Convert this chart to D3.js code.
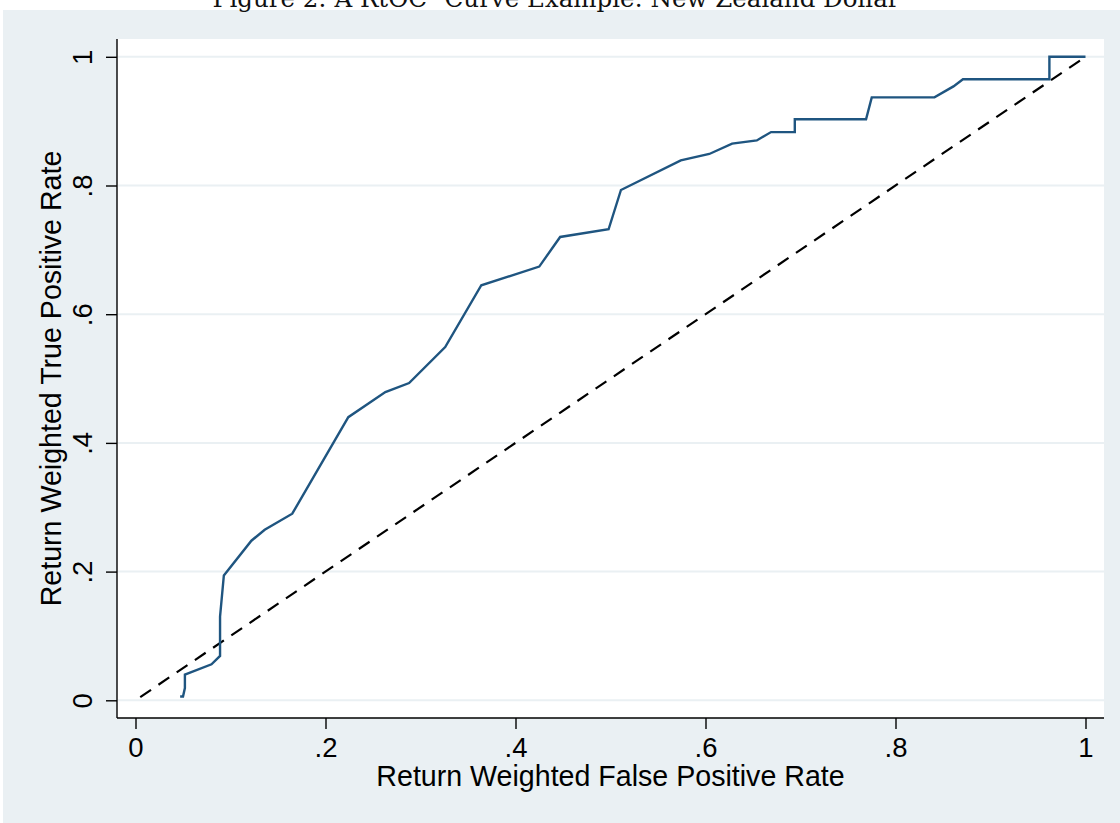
<!DOCTYPE html>
<html>
<head>
<meta charset="utf-8">
<script src="https://cdn.jsdelivr.net/npm/d3@7"></script>
<style>
body { margin: 0; background: #fff; }
svg { display: block; }
</style>
</head>
<body>
<svg id="chart" width="1120" height="823"></svg>
<script>
var chartTitle = "Figure 2: A RtOC\u00b2 Curve Example: New Zealand Dollar";
var xTitle = "Return Weighted False Positive Rate";
var yTitle = "Return Weighted True Positive Rate";

// points of the curve
var fpr = [0.047, 0.050, 0.052, 0.052, 0.080, 0.089, 0.089, 0.093, 0.122, 0.136,
	0.165, 0.224, 0.263, 0.288, 0.326, 0.364, 0.425, 0.447, 0.498, 0.511,
	0.574, 0.604, 0.628, 0.654, 0.669, 0.694, 0.694, 0.769, 0.775, 0.841,
	0.861, 0.871, 0.962, 0.962, 1.0];
var tpr = [0.006, 0.006, 0.019, 0.040, 0.056, 0.069, 0.130, 0.194, 0.248, 0.265,
	0.290, 0.440, 0.479, 0.493, 0.549, 0.645, 0.674, 0.720, 0.732, 0.793,
	0.839, 0.849, 0.865, 0.870, 0.883, 0.883, 0.903, 0.903, 0.937, 0.937,
	0.954, 0.965, 0.965, 1.0, 1.0];

var diagX = [0.005, 1];
var diagY = [0.005, 1];

var tickValues = [0, 0.2, 0.4, 0.6, 0.8, 1];
var tickLabels = ["0", ".2", ".4", ".6", ".8", "1"];

var svg = d3.select("#chart"),
	bg = "#eaf0f3",
	font = "'Liberation Sans', Arial, Helvetica, sans-serif",
	plot = {left: 117, top: 39, right: 1104, bottom: 718};

var x = d3.scaleLinear().domain([0, 1]).range([135.5, 1085.5]),
	y = d3.scaleLinear().domain([0, 1]).range([700.3, 56.8]);

// outer region and plot region
svg.append("rect")
	.attr("x", 3).attr("y", 10)
	.attr("width", 1117).attr("height", 813)
	.attr("fill", bg);
svg.append("rect")
	.attr("x", plot.left).attr("y", plot.top)
	.attr("width", plot.right - plot.left).attr("height", plot.bottom - plot.top)
	.attr("fill", "#fff");

// title sits mostly above the top edge, as in the scanned figure
svg.append("text")
	.attr("x", 556)
	.attr("y", 7)
	.attr("text-anchor", "middle")
	.attr("font-family", "'DejaVu Serif', 'Liberation Serif', serif")
	.attr("font-size", 24.5)
	.attr("fill", "#111")
	.text(chartTitle);

// grid
svg.append("g")
	.selectAll("line")
	.data(tickValues)
	.enter().append("line")
	.attr("x1", plot.left + 1)
	.attr("x2", plot.right)
	.attr("y1", function(d) { return y(d); })
	.attr("y2", function(d) { return y(d); })
	.attr("stroke", bg)
	.attr("stroke-width", 2);

// axes
var xAxis = svg.append("g")
	.attr("transform", "translate(0," + plot.bottom + ")")
	.call(d3.axisBottom(x)
		.tickValues(tickValues)
		.tickFormat(function(d, i) { return tickLabels[i]; })
		.tickSize(11)
		.tickPadding(8));

var yAxis = svg.append("g")
	.attr("transform", "translate(" + plot.left + ",0)")
	.call(d3.axisLeft(y)
		.tickValues(tickValues)
		.tickFormat(function(d, i) { return tickLabels[i]; })
		.tickSize(11));

[xAxis, yAxis].forEach(function(ax) {
	ax.select(".domain").remove();
	ax.selectAll(".tick line").attr("stroke", "#000").attr("stroke-width", 1.4);
	ax.selectAll(".tick text")
		.attr("font-family", font)
		.attr("font-size", 27.5)
		.attr("fill", "#000");
});

yAxis.selectAll(".tick text")
	.attr("x", 0)
	.attr("y", 0)
	.attr("dy", 0)
	.attr("text-anchor", "middle")
	.attr("transform", "translate(-25,0) rotate(-90)");

svg.append("line")
	.attr("x1", plot.left).attr("x2", plot.right)
	.attr("y1", plot.bottom).attr("y2", plot.bottom)
	.attr("stroke", "#000").attr("stroke-width", 1.4);
svg.append("line")
	.attr("x1", plot.left).attr("x2", plot.left)
	.attr("y1", plot.top).attr("y2", plot.bottom)
	.attr("stroke", "#000").attr("stroke-width", 1.4);

svg.append("text")
	.attr("x", (plot.left + plot.right) / 2)
	.attr("y", 786)
	.attr("text-anchor", "middle")
	.attr("font-family", font)
	.attr("font-size", 28.6)
	.text(xTitle);

svg.append("text")
	.attr("transform", "translate(61," + (plot.top + plot.bottom) / 2 + ") rotate(-90)")
	.attr("text-anchor", "middle")
	.attr("font-family", font)
	.attr("font-size", 28.6)
	.text(yTitle);

// lines
var line = d3.line()
	.x(function(d) { return x(d[0]); })
	.y(function(d) { return y(d[1]); });

svg.append("path")
	.datum(d3.zip(diagX, diagY))
	.attr("d", line)
	.attr("fill", "none")
	.attr("stroke", "#000")
	.attr("stroke-width", 2.2)
	.attr("stroke-dasharray", "13,9");

svg.append("path")
	.datum(d3.zip(fpr, tpr))
	.attr("d", line)
	.attr("fill", "none")
	.attr("stroke", "#1f5580")
	.attr("stroke-width", 2.4)
	.attr("stroke-linejoin", "miter");
</script>
</body>
</html>
